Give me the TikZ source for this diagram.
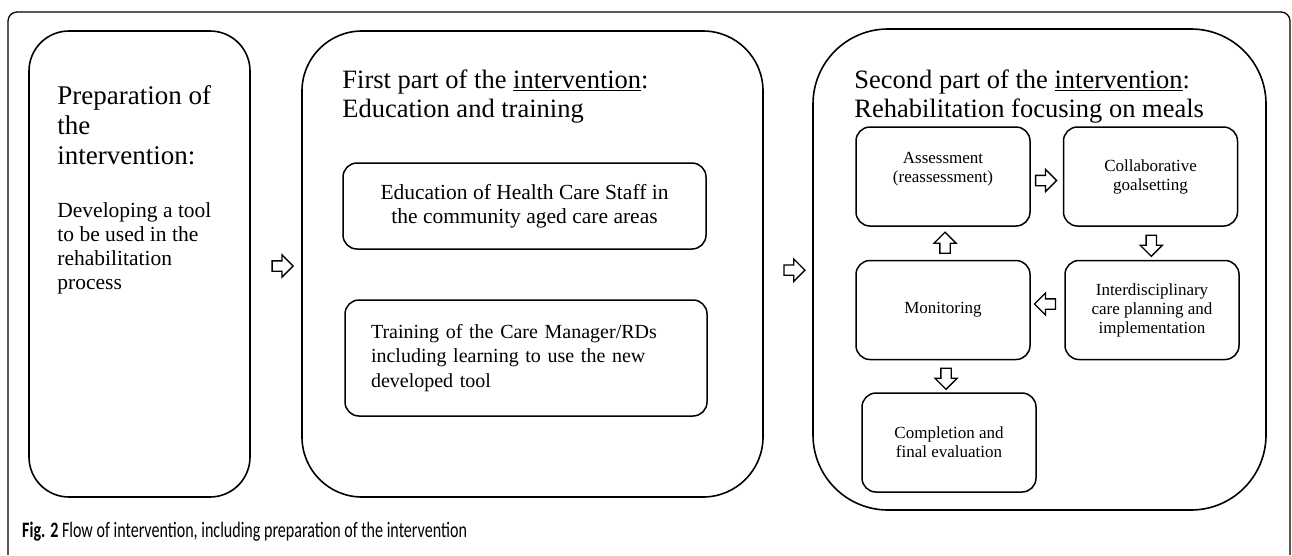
\documentclass[tikz,border=0pt]{standalone}
\usepackage{fontspec}
\setmainfont{Liberation Serif}
\newfontfamily\capfont[FakeStretch=0.73]{Carlito}
\usetikzlibrary{shapes.arrows,calc,positioning}

\tikzset{
  partbox/.style={draw,line width=1.6pt},
  bigtext/.style={anchor=north west,inner sep=0pt,align=left},
  innerbox/.style={draw,line width=1.5pt,rounded corners=14},
  stepbox/.style={draw,line width=1.5pt,rounded corners=14,minimum width=174,minimum height=99,
    align=center,font=\fontsize{17}{19}\selectfont},
  blockarrow/.style={draw,line width=1.3pt,fill=white,single arrow,single arrow head extend=6pt,
    inner sep=4.5pt,minimum height=21pt}
}

\begin{document}
\begin{tikzpicture}[x=1pt,y=-1pt]
\useasboundingbox (0,0) rectangle (1292,555);

% frame round the whole figure
\draw[line width=1.3pt,rounded corners=9] (8,555) -- (8,12) -- (1290,12) -- (1290,555);

% the three parts
\node[partbox,rounded corners=40,minimum width=221,minimum height=466] (prep) at (139.5,264) {};
\node[partbox,rounded corners=60,minimum width=461,minimum height=466] (first) at (532.5,264) {};
\node[partbox,rounded corners=75,minimum width=453,minimum height=481] (second) at (1039.5,269.5) {};

\node[bigtext,font=\fontsize{27}{30}\selectfont] (preptitle) at ($(prep.north west)+(29,55)$)
  {Preparation of\\the\\intervention:};
\node[bigtext,font=\fontsize{21.5}{24}\selectfont] (preptext) at ($(prep.north west)+(29,172)$)
  {Developing a tool\\to be used in the\\rehabilitation\\process};

\node[bigtext,font=\fontsize{26.5}{29}\selectfont] (firsttitle) at ($(first.north west)+(41,39)$)
  {First part of the \underline{intervention}:\\Education and training};
\node[bigtext,font=\fontsize{26.5}{29}\selectfont] (secondtitle) at ($(second.north west)+(42,41)$)
  {Second part of the \underline{intervention}:\\Rehabilitation focusing on meals};

% education and training
\node[innerbox,minimum width=363,minimum height=86,align=center,font=\fontsize{21.5}{24}\selectfont] (edu)
  at (524.5,206) {Education of Health Care Staff in\\the community aged care areas};
\node[innerbox,minimum width=362,minimum height=116,text width=310,align=left,font=\fontsize{20}{24.5}\selectfont] (train)
  at (526,358) {Training of the Care Manager/RDs\\including learning to use the new\\developed tool};

% rehabilitation cycle
\node[stepbox] (assess) at (943,176.5) {Assessment\\(reassessment)\\\mbox{}};
\node[stepbox,right=32pt of assess] (collab) {Collaborative\\goalsetting};
\node[stepbox,below=33pt of assess] (monitor) {Monitoring};
\node[stepbox,below=33pt of collab,xshift=1.5pt] (plan) {Interdisciplinary\\care planning and\\implementation};
\node[stepbox,below=32pt of monitor,xshift=6pt] (complete) {Completion and\\final evaluation};

% block arrows
\node[blockarrow] (a1) at ($(prep.east)!.58!(first.west)+(0,2)$) {};
\node[blockarrow] (a2) at ($(first.east)!.58!(second.west)+(0,3)$) {};
\node[blockarrow] (a3) at ($(assess.east)!.4!(collab.west)+(0,4)$) {};
\node[blockarrow,shape border rotate=270] (a4) at ($(collab.south)!.5!(plan.north)$) {};
\node[blockarrow,shape border rotate=180] (a5) at ($(plan.west)!.5!(monitor.east)+(0,-6)$) {};
\node[blockarrow,shape border rotate=90] (a6) at ($(monitor.north)!.5!(assess.south)+(2,2)$) {};
\node[blockarrow,shape border rotate=270] (a7) at ($(monitor.south)!.5!(complete.north)$) {};

\node[anchor=base west,inner sep=0pt,font=\capfont\fontsize{22}{26}\selectfont] (caption) at (22,537)
  {\textbf{Fig. 2} Flow of intervention, including preparation of the intervention};
\end{tikzpicture}
\end{document}
